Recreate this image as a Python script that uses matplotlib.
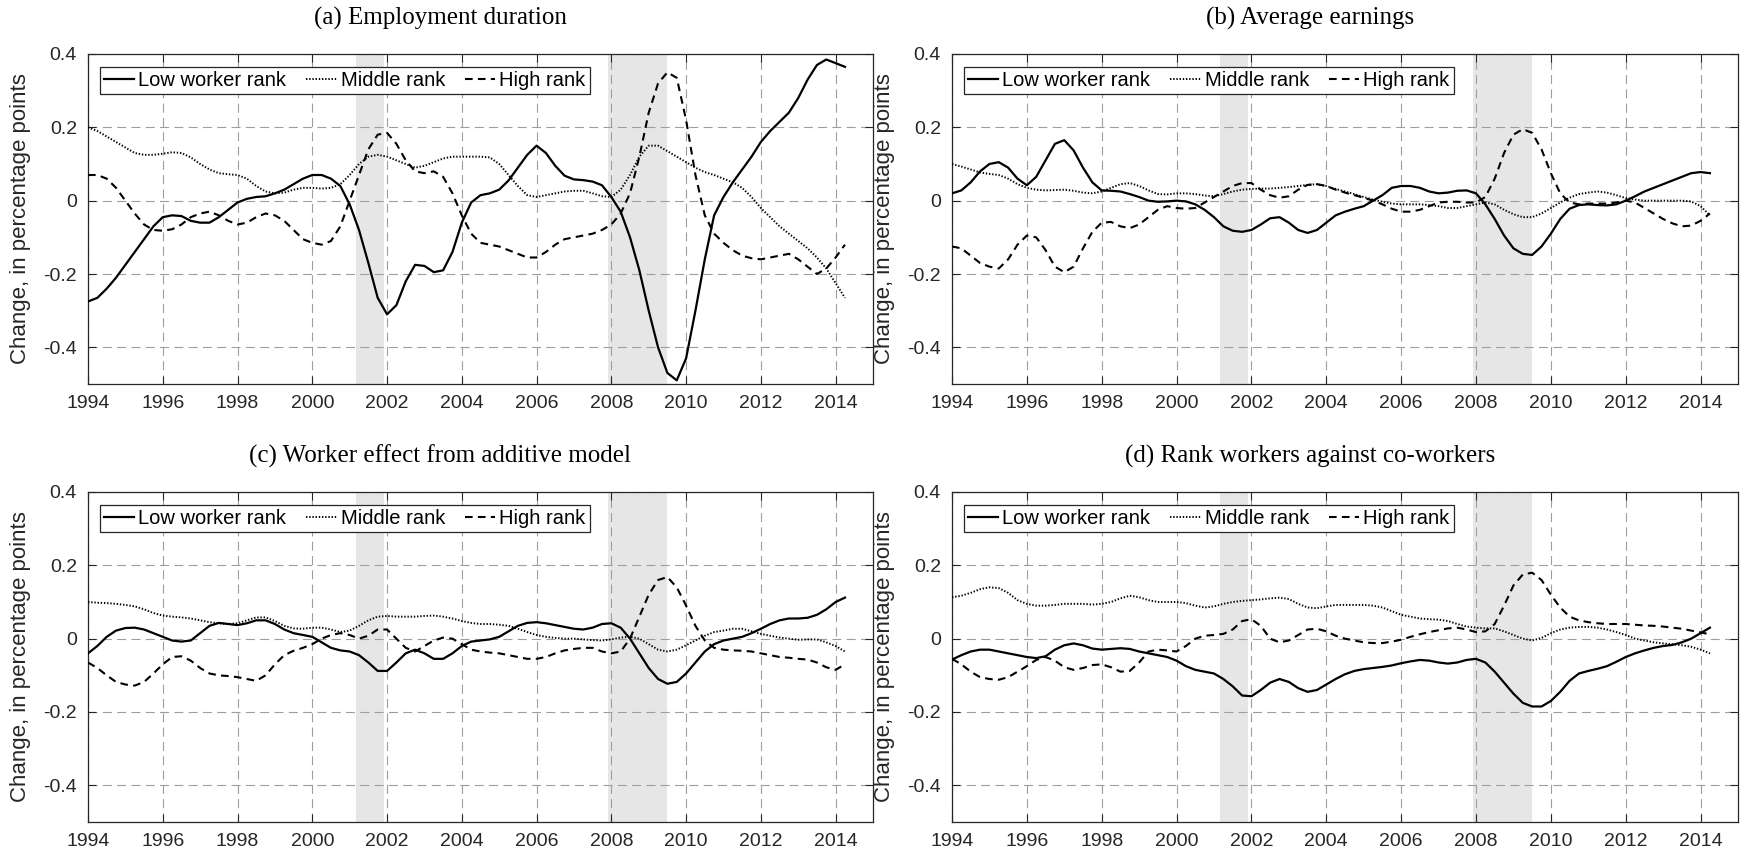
import numpy as np
import matplotlib
matplotlib.use("Agg")
import matplotlib.pyplot as plt

plt.rcParams['font.family'] = ['Liberation Sans', 'DejaVu Sans']
plt.rcParams['axes.unicode_minus'] = False
plt.rcParams['lines.scale_dashes'] = False

# quarterly observations, 1994Q1 .. 2014Q2
quarters = 1994 + 0.25 * np.arange(82)

titles = ['(a) Employment duration', '(b) Average earnings',
          '(c) Worker effect from additive model',
          '(d) Rank workers against co-workers']
series_labels = ['Low worker rank', 'Middle rank', 'High rank']
recessions = [(2001.17, 2001.92), (2007.92, 2009.5)]
year_ticks = list(range(1994, 2015, 2))
y_ticks = [-0.4, -0.2, 0, 0.2, 0.4]
y_tick_labels = ['-0.4', '-0.2', '0', '0.2', '0.4']

dur_low = [
    -0.275, -0.265, -0.24, -0.21,
    -0.175, -0.14, -0.105, -0.07,
    -0.045, -0.04, -0.042, -0.055,
    -0.06, -0.06, -0.045, -0.025,
    -0.005, 0.005, 0.01, 0.012,
    0.02, 0.03, 0.045, 0.06,
    0.07, 0.07, 0.06, 0.04,
    -0.01, -0.08, -0.17, -0.265,
    -0.31, -0.285, -0.22, -0.175,
    -0.178, -0.195, -0.19, -0.14,
    -0.06, -0.005, 0.015, 0.02,
    0.03, 0.055, 0.09, 0.125,
    0.15, 0.13, 0.095, 0.068,
    0.058, 0.056, 0.052, 0.042,
    0.01, -0.03, -0.1, -0.19,
    -0.3, -0.4, -0.47, -0.49,
    -0.43, -0.3, -0.16, -0.04,
    0.01, 0.05, 0.085, 0.12,
    0.16, 0.19, 0.215, 0.24,
    0.28, 0.33, 0.37, 0.385,
    0.375, 0.365]
dur_mid = [
    0.2, 0.19, 0.175, 0.16,
    0.145, 0.13, 0.125, 0.125,
    0.128, 0.132, 0.13, 0.118,
    0.1, 0.085, 0.075, 0.072,
    0.07, 0.06, 0.04, 0.025,
    0.02, 0.022, 0.03, 0.035,
    0.035, 0.033, 0.035, 0.045,
    0.07, 0.1, 0.12, 0.125,
    0.12, 0.11, 0.1, 0.09,
    0.095, 0.105, 0.115, 0.12,
    0.12, 0.12, 0.12, 0.118,
    0.1, 0.07, 0.04, 0.015,
    0.01, 0.015, 0.02, 0.025,
    0.027, 0.027, 0.02, 0.012,
    0.01, 0.03, 0.07, 0.12,
    0.15, 0.15, 0.135, 0.12,
    0.105, 0.09, 0.078, 0.07,
    0.06, 0.05, 0.035, 0.01,
    -0.02, -0.045, -0.07, -0.09,
    -0.11, -0.13, -0.155, -0.185,
    -0.225, -0.265]
dur_high = [
    0.07, 0.07, 0.06, 0.035,
    0.0, -0.035, -0.065, -0.08,
    -0.082, -0.078, -0.065, -0.045,
    -0.035, -0.03, -0.04, -0.055,
    -0.065, -0.06, -0.045, -0.035,
    -0.04, -0.055, -0.08, -0.105,
    -0.115, -0.12, -0.11, -0.07,
    0.0, 0.07, 0.14, 0.18,
    0.185, 0.155, 0.11, 0.08,
    0.075, 0.08, 0.065, 0.02,
    -0.04, -0.09, -0.115, -0.12,
    -0.125, -0.135, -0.145, -0.155,
    -0.155, -0.14, -0.12, -0.105,
    -0.1, -0.095, -0.09, -0.08,
    -0.065, -0.035, 0.02, 0.12,
    0.24, 0.32, 0.35, 0.335,
    0.22, 0.07, -0.04, -0.09,
    -0.115, -0.135, -0.15, -0.157,
    -0.16, -0.155, -0.15, -0.145,
    -0.16, -0.18, -0.2, -0.185,
    -0.155, -0.12]

earn_low = [
    0.02, 0.028, 0.05, 0.08,
    0.1, 0.105, 0.09, 0.06,
    0.042, 0.065, 0.11, 0.155,
    0.165, 0.137, 0.09, 0.05,
    0.028, 0.027, 0.025, 0.018,
    0.01, 0.0, -0.003, -0.002,
    0.0, -0.002, -0.01, -0.025,
    -0.045, -0.07, -0.082, -0.085,
    -0.08, -0.065, -0.048, -0.045,
    -0.06, -0.08, -0.088, -0.08,
    -0.06, -0.04, -0.03, -0.022,
    -0.015, 0.0, 0.015, 0.035,
    0.04, 0.04, 0.035, 0.025,
    0.02, 0.022, 0.027, 0.028,
    0.02, -0.01, -0.05, -0.095,
    -0.13, -0.145, -0.148, -0.125,
    -0.09, -0.05, -0.022, -0.012,
    -0.01, -0.012, -0.013, -0.01,
    0.0, 0.012, 0.025, 0.035,
    0.045, 0.055, 0.065, 0.075,
    0.078, 0.075]
earn_mid = [
    0.1, 0.093, 0.085, 0.077,
    0.073, 0.07, 0.06, 0.045,
    0.035, 0.03, 0.028, 0.029,
    0.03, 0.027, 0.022, 0.02,
    0.025, 0.035, 0.045, 0.048,
    0.04, 0.028, 0.018, 0.017,
    0.02, 0.02, 0.018, 0.014,
    0.012, 0.018, 0.025, 0.03,
    0.032, 0.033, 0.033, 0.035,
    0.037, 0.04, 0.043, 0.045,
    0.04, 0.032, 0.025, 0.018,
    0.01, 0.003, -0.003, -0.008,
    -0.01, -0.01, -0.01, -0.012,
    -0.015, -0.02, -0.02, -0.015,
    -0.01, -0.005, -0.01, -0.025,
    -0.037, -0.045, -0.045, -0.035,
    -0.02, -0.005, 0.008, 0.018,
    0.022, 0.025, 0.022, 0.015,
    0.007, 0.003, 0.0, 0.0,
    0.0, 0.0, 0.0, -0.002,
    -0.015, -0.04]
earn_high = [
    -0.125, -0.13, -0.15, -0.17,
    -0.18, -0.185, -0.16, -0.12,
    -0.095, -0.1, -0.135, -0.18,
    -0.195, -0.18, -0.13, -0.085,
    -0.06, -0.058, -0.07, -0.075,
    -0.065, -0.045, -0.025, -0.015,
    -0.02, -0.022, -0.02, -0.005,
    0.01, 0.025, 0.04, 0.048,
    0.048, 0.03, 0.015, 0.008,
    0.012, 0.03, 0.043, 0.045,
    0.04, 0.03, 0.022, 0.015,
    0.008, 0.0, -0.01, -0.022,
    -0.03, -0.03, -0.025, -0.015,
    -0.005, -0.003, -0.003, -0.005,
    -0.005, 0.01, 0.06, 0.13,
    0.18, 0.195, 0.185, 0.14,
    0.075, 0.02, -0.005, -0.01,
    -0.008, -0.008, -0.008, -0.005,
    0.0, -0.005, -0.02, -0.035,
    -0.05, -0.062, -0.07, -0.068,
    -0.055, -0.035]

add_low = [
    -0.04, -0.02, 0.005, 0.022,
    0.029, 0.03, 0.025, 0.015,
    0.005, -0.005, -0.008, -0.005,
    0.015, 0.035, 0.043, 0.04,
    0.037, 0.042, 0.05, 0.05,
    0.04, 0.025, 0.015, 0.01,
    0.005, -0.01, -0.025, -0.032,
    -0.035, -0.045, -0.065, -0.088,
    -0.088, -0.065, -0.04, -0.03,
    -0.04, -0.055, -0.055, -0.04,
    -0.02, -0.008, -0.005, -0.002,
    0.005, 0.02, 0.035, 0.043,
    0.045, 0.042, 0.037, 0.032,
    0.027, 0.025, 0.03, 0.04,
    0.042, 0.03, 0.0, -0.04,
    -0.08, -0.11, -0.123, -0.118,
    -0.095, -0.065, -0.035, -0.015,
    -0.005, 0.0, 0.005, 0.015,
    0.027, 0.04, 0.05, 0.055,
    0.055, 0.057, 0.065, 0.08,
    0.1, 0.112]
add_mid = [
    0.1, 0.098, 0.097, 0.095,
    0.092, 0.088, 0.08, 0.07,
    0.063, 0.06, 0.058, 0.055,
    0.05, 0.045, 0.042, 0.04,
    0.042, 0.05, 0.058, 0.058,
    0.048, 0.035, 0.028, 0.027,
    0.03, 0.03, 0.025, 0.018,
    0.022, 0.035, 0.05, 0.06,
    0.062, 0.06, 0.06, 0.06,
    0.062, 0.063, 0.06, 0.055,
    0.048, 0.043, 0.04, 0.04,
    0.038, 0.035, 0.027, 0.018,
    0.01, 0.005, 0.002, 0.0,
    0.0, -0.002, -0.004, -0.005,
    -0.002, 0.003, 0.005, 0.0,
    -0.015, -0.03, -0.035, -0.03,
    -0.018, -0.005, 0.008, 0.018,
    0.022, 0.027, 0.027, 0.02,
    0.013, 0.008, 0.003, 0.0,
    -0.003, -0.002, -0.002, -0.01,
    -0.02, -0.035]
add_high = [
    -0.065, -0.08, -0.1, -0.118,
    -0.125, -0.128, -0.118, -0.095,
    -0.07, -0.05, -0.048, -0.06,
    -0.08, -0.095, -0.1, -0.102,
    -0.105, -0.11, -0.115, -0.1,
    -0.07, -0.045, -0.033, -0.025,
    -0.015, 0.0, 0.01, 0.015,
    0.01, 0.0, 0.008, 0.025,
    0.025, 0.0, -0.025, -0.035,
    -0.02, -0.005, 0.003, 0.0,
    -0.015, -0.03, -0.035, -0.038,
    -0.04, -0.045, -0.05, -0.055,
    -0.055, -0.05, -0.04, -0.032,
    -0.028, -0.025, -0.025, -0.035,
    -0.04, -0.035, 0.0, 0.06,
    0.12, 0.16, 0.168, 0.14,
    0.09, 0.035, -0.005, -0.025,
    -0.03, -0.032, -0.033, -0.035,
    -0.04, -0.045, -0.05, -0.052,
    -0.055, -0.057, -0.065, -0.078,
    -0.085, -0.07]

cow_low = [
    -0.057, -0.045, -0.035, -0.03,
    -0.03, -0.035, -0.04, -0.045,
    -0.05, -0.053, -0.048, -0.03,
    -0.018, -0.013, -0.018, -0.027,
    -0.03, -0.028, -0.026, -0.028,
    -0.035, -0.04, -0.045, -0.05,
    -0.06, -0.075, -0.085, -0.09,
    -0.095, -0.11, -0.13, -0.155,
    -0.157, -0.14, -0.12, -0.11,
    -0.118, -0.135, -0.145, -0.14,
    -0.125, -0.11, -0.097, -0.088,
    -0.083, -0.08, -0.077, -0.073,
    -0.067, -0.062, -0.058, -0.06,
    -0.065, -0.068, -0.065, -0.058,
    -0.055, -0.065, -0.09, -0.12,
    -0.15, -0.175, -0.185, -0.185,
    -0.17, -0.145, -0.115, -0.095,
    -0.088, -0.082, -0.075, -0.063,
    -0.05, -0.04, -0.032, -0.025,
    -0.02, -0.017, -0.01, 0.0,
    0.015, 0.03]
cow_mid = [
    0.113, 0.117, 0.125, 0.135,
    0.14, 0.138, 0.125, 0.105,
    0.095, 0.09, 0.09, 0.092,
    0.095, 0.095, 0.095, 0.093,
    0.095, 0.1, 0.11, 0.117,
    0.113, 0.105, 0.1, 0.1,
    0.1, 0.097, 0.09, 0.085,
    0.088, 0.095, 0.1, 0.103,
    0.105, 0.107, 0.11, 0.112,
    0.108, 0.095, 0.085, 0.083,
    0.088, 0.092, 0.092, 0.092,
    0.092, 0.09, 0.085, 0.075,
    0.065, 0.06, 0.055, 0.053,
    0.052, 0.048, 0.04, 0.033,
    0.03, 0.028, 0.028, 0.02,
    0.01, 0.0, -0.005, 0.002,
    0.015, 0.025, 0.03, 0.032,
    0.032, 0.03, 0.025, 0.018,
    0.01, 0.0, -0.005, -0.01,
    -0.013, -0.015, -0.018, -0.022,
    -0.03, -0.04]
cow_high = [
    -0.055, -0.07, -0.09, -0.105,
    -0.11, -0.112, -0.105, -0.09,
    -0.075, -0.058, -0.05, -0.06,
    -0.078, -0.085, -0.08, -0.072,
    -0.07, -0.078, -0.09, -0.088,
    -0.065, -0.035, -0.03, -0.032,
    -0.035, -0.02, 0.0, 0.008,
    0.01, 0.013, 0.025, 0.048,
    0.053, 0.035, 0.0, -0.01,
    -0.005, 0.01, 0.025, 0.027,
    0.02, 0.008, 0.0, -0.005,
    -0.01, -0.012, -0.012, -0.008,
    -0.003, 0.005, 0.012, 0.018,
    0.023, 0.028, 0.03, 0.025,
    0.018, 0.02, 0.04, 0.09,
    0.145, 0.175, 0.18, 0.16,
    0.12, 0.085, 0.06, 0.05,
    0.045, 0.042, 0.04, 0.04,
    0.04, 0.038, 0.036, 0.035,
    0.033, 0.03, 0.027, 0.022,
    0.017, 0.012]

panels = [
    (dur_low, dur_mid, dur_high),
    (earn_low, earn_mid, earn_high),
    (add_low, add_mid, add_high),
    (cow_low, cow_mid, cow_high),
]

W, H = 1741, 856
fig = plt.figure(figsize=(W / 100, H / 100), dpi=100)

# axes boxes in pixels: left, top, right, bottom
boxes = [(88, 54, 873, 384), (952, 54, 1738, 384),
         (88, 492, 873, 822), (952, 492, 1738, 822)]
title_pos = [(440, 18), (1310, 18), (440, 456), (1310, 456)]

styles = [dict(linestyle='-', linewidth=1.6),
          dict(linestyle=(0, (1.0, 1.3)), linewidth=1.4),
          dict(linestyle=(0, (5.5, 3.8)), linewidth=1.5)]

for i, (series, title) in enumerate(zip(panels, titles)):
    l, t, r, b = boxes[i]
    ax = fig.add_axes([l / W, 1 - b / H, (r - l) / W, (b - t) / H])

    for start, end in recessions:
        ax.axvspan(start, end, color='0.9', lw=0, zorder=0)

    handles = []
    for values, label, st in zip(series, series_labels, styles):
        h, = ax.plot(quarters, values, color='black', label=label,
                     zorder=3, **st)
        handles.append(h)

    ax.set_xlim(1994, 2015)
    ax.set_ylim(-0.5, 0.4)
    ax.set_xticks(year_ticks)
    ax.set_yticks(y_ticks)
    ax.set_yticklabels(y_tick_labels)
    ax.set_axisbelow(True)
    ax.grid(True, color='0.62', linestyle=(0, (6.5, 3.8)), linewidth=0.8)
    ax.tick_params(direction='in', length=6, width=0.8, labelsize=14,
                   top=True, right=True, colors='0.15', labelcolor='0.15')
    ax.tick_params(axis='x', pad=8)
    ax.tick_params(axis='y', pad=8)
    for sp in ax.spines.values():
        sp.set_linewidth(0.9)
        sp.set_color('0.15')

    ax.set_ylabel('Change, in percentage points', fontsize=16, color='0.15')
    ax.yaxis.set_label_coords(-0.072, 0.5)

    ax.legend(handles=handles, loc='upper left', ncol=3,
              bbox_to_anchor=(12 / (r - l), 1 - 13 / (b - t)),
              borderaxespad=0, fontsize=14.5, frameon=True, fancybox=False,
              edgecolor='0.15', framealpha=1, borderpad=0.2,
              handlelength=1.5, handletextpad=0.2, columnspacing=1.0)
    ax.get_legend().get_frame().set_linewidth(0.9)

    tx, ty = title_pos[i]
    fig.text(tx / W, 1 - ty / H, title, ha='center', va='center',
             fontsize=18, family='Liberation Serif')

fig.savefig('out.png', dpi=100)
